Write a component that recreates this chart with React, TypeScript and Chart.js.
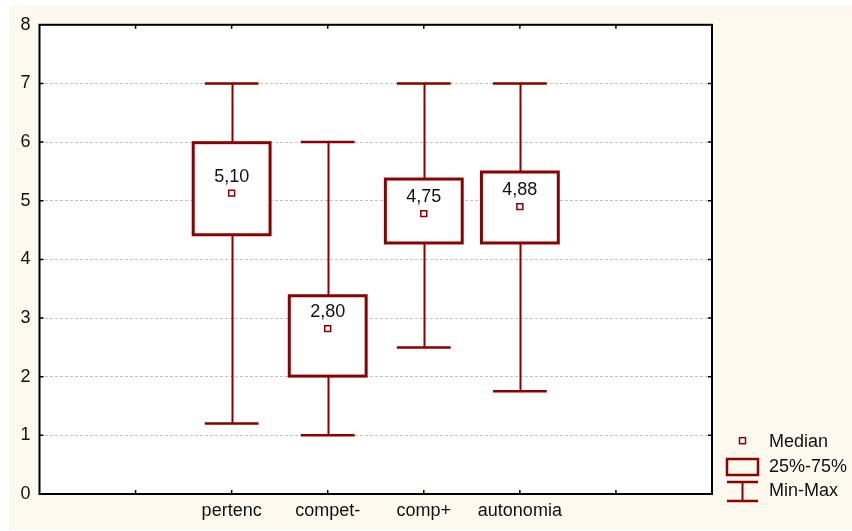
import React, { useEffect, useRef } from "react";
import { Chart, registerables } from "chart.js";
Chart.register(...registerables);

const categories = ["pertenc", "compet-", "comp+", "autonomia"];
const positions = [2, 3, 4, 5];
const mins = [1.2, 1.0, 2.5, 1.75];
const q1s = [4.42, 2.01, 4.28, 4.28];
const medians = [5.13, 2.82, 4.78, 4.9];
const q3s = [5.99, 3.38, 5.37, 5.49];
const maxs = [7, 6, 7, 7];
const medianLabels = ["5,10", "2,80", "4,75", "4,88"];
const legendLabels = ["Median", "25%-75%", "Min-Max"];

const RED = "#8B0000";
const CREAM = "#FEF9EE";
const FONT = "'Liberation Sans', Arial, sans-serif";
const FS = 18;
const BOX_W = 0.8;
const CAP_W = 0.56;

const boxPlugin = {
  id: "boxes",
  beforeDraw(chart: any) {
    const { ctx, chartArea: a, width, height } = chart;
    ctx.save();
    ctx.fillStyle = CREAM;
    ctx.fillRect(0, 0, width, height);
    ctx.fillStyle = "#ffffff";
    ctx.fillRect(a.left, a.top, a.right - a.left, a.bottom - a.top);
    ctx.restore();
  },
  beforeDatasetsDraw(chart: any) {
    const { ctx } = chart;
    const xs = chart.scales.x;
    const ys = chart.scales.y;
    ctx.save();
    ctx.strokeStyle = RED;
    positions.forEach((p, i) => {
      const cx = Math.round(xs.getPixelForValue(p)) + 0.5;
      const bl = xs.getPixelForValue(p - BOX_W / 2);
      const br = xs.getPixelForValue(p + BOX_W / 2);
      const cl = xs.getPixelForValue(p - CAP_W / 2);
      const cr = xs.getPixelForValue(p + CAP_W / 2);
      const yMin = ys.getPixelForValue(mins[i]);
      const yMax = ys.getPixelForValue(maxs[i]);
      const yQ1 = ys.getPixelForValue(q1s[i]);
      const yQ3 = ys.getPixelForValue(q3s[i]);
      ctx.lineWidth = 2;
      ctx.beginPath();
      ctx.moveTo(cx, yMax);
      ctx.lineTo(cx, yMin);
      ctx.stroke();
      ctx.lineWidth = 2.5;
      ctx.beginPath();
      ctx.moveTo(cl, yMax);
      ctx.lineTo(cr, yMax);
      ctx.moveTo(cl, yMin);
      ctx.lineTo(cr, yMin);
      ctx.stroke();
      ctx.fillStyle = "#ffffff";
      ctx.fillRect(bl, yQ3, br - bl, yQ1 - yQ3);
      ctx.lineWidth = 3;
      ctx.strokeRect(bl, yQ3, br - bl, yQ1 - yQ3);
    });
    ctx.restore();
  },
  afterDatasetsDraw(chart: any) {
    const { ctx, chartArea: a } = chart;
    const xs = chart.scales.x;
    const ys = chart.scales.y;
    ctx.save();
    // median labels
    ctx.font = `${FS}px ${FONT}`;
    ctx.fillStyle = "#111111";
    ctx.textAlign = "center";
    ctx.textBaseline = "middle";
    positions.forEach((p, i) => {
      ctx.fillText(medianLabels[i], xs.getPixelForValue(p), ys.getPixelForValue(medians[i]) - 16.5);
    });
    // frame
    ctx.strokeStyle = "#000000";
    ctx.lineWidth = 2;
    ctx.strokeRect(a.left, a.top, a.right - a.left, a.bottom - a.top);
    ctx.lineWidth = 1.5;
    ctx.beginPath();
    for (let v = 1; v <= 7; v++) {
      const y = ys.getPixelForValue(v);
      ctx.moveTo(a.left, y);
      ctx.lineTo(a.left + 4, y);
      ctx.moveTo(a.right, y);
      ctx.lineTo(a.right - 4, y);
    }
    for (let v = 1; v <= 6; v++) {
      const x = xs.getPixelForValue(v);
      ctx.moveTo(x, a.bottom);
      ctx.lineTo(x, a.bottom - 4);
      ctx.moveTo(x, a.top);
      ctx.lineTo(x, a.top + 4);
    }
    ctx.stroke();
    // legend
    const lx = a.right + 15;
    const tx = a.right + 57;
    const mx = lx + 15.5;
    ctx.strokeStyle = RED;
    ctx.fillStyle = "#ffffff";
    ctx.lineWidth = 1.5;
    ctx.fillRect(mx - 3, 435.7 - 3, 6, 6);
    ctx.strokeRect(mx - 3, 435.7 - 3, 6, 6);
    ctx.lineWidth = 2.5;
    ctx.strokeRect(lx, 454, 31, 16);
    ctx.lineWidth = 2.5;
    ctx.beginPath();
    ctx.moveTo(lx, 477);
    ctx.lineTo(lx + 31, 477);
    ctx.moveTo(lx, 496);
    ctx.lineTo(lx + 31, 496);
    ctx.stroke();
    ctx.lineWidth = 2;
    ctx.beginPath();
    ctx.moveTo(mx, 477);
    ctx.lineTo(mx, 496);
    ctx.stroke();
    ctx.fillStyle = "#111111";
    ctx.textAlign = "left";
    ctx.textBaseline = "middle";
    const ly = [437, 462.5, 486.5];
    legendLabels.forEach((t, i) => ctx.fillText(t, tx, ly[i]));
    ctx.restore();
  },
};

export default function App() {
  const ref = useRef<HTMLCanvasElement>(null);
  useEffect(() => {
    if (!ref.current) return;
    const chart = new Chart(ref.current, {
      type: "scatter",
      data: {
        datasets: [
          {
            label: "Median",
            data: positions.map((p, i) => ({ x: p, y: medians[i] })),
            pointStyle: "rect",
            radius: 4.2,
            borderColor: RED,
            backgroundColor: "#ffffff",
            borderWidth: 1.5,
          } as any,
        ],
      },
      options: {
        animation: false,
        responsive: false,
        devicePixelRatio: 1,
        layout: { padding: { top: 18, right: 140, left: 0, bottom: 0 } },
        plugins: { legend: { display: false }, tooltip: { enabled: false } },
        scales: {
          x: {
            type: "linear",
            min: 0,
            max: 7,
            afterFit: (s: any) => {
              s.height = 36;
            },
            grid: { display: false, drawTicks: false },
            border: { display: false },
            ticks: {
              stepSize: 1,
              autoSkip: false,
              maxRotation: 0,
              padding: 6,
              color: "#111111",
              font: { family: FONT, size: FS },
              callback: (v: any) => {
                const idx = positions.indexOf(Number(v));
                return idx >= 0 ? categories[idx] : "";
              },
            },
          },
          y: {
            min: 0,
            max: 8,
            afterFit: (s: any) => {
              s.width = 30.5;
            },
            grid: {
              color: "#c4c4c4",
              lineWidth: 1,
              drawTicks: false,
            },
            border: { display: false, dash: [3, 2] },
            ticks: {
              stepSize: 1,
              padding: 9,
              color: "#111111",
              font: { family: FONT, size: FS },
            },
          },
        },
      } as any,
      plugins: [boxPlugin],
    });
    return () => chart.destroy();
  }, []);
  return (
    <div style={{ position: "absolute", left: 9, top: 5, width: 843, height: 525 }}>
      <canvas ref={ref} width={843} height={525} style={{ display: "block" }} />
    </div>
  );
}
